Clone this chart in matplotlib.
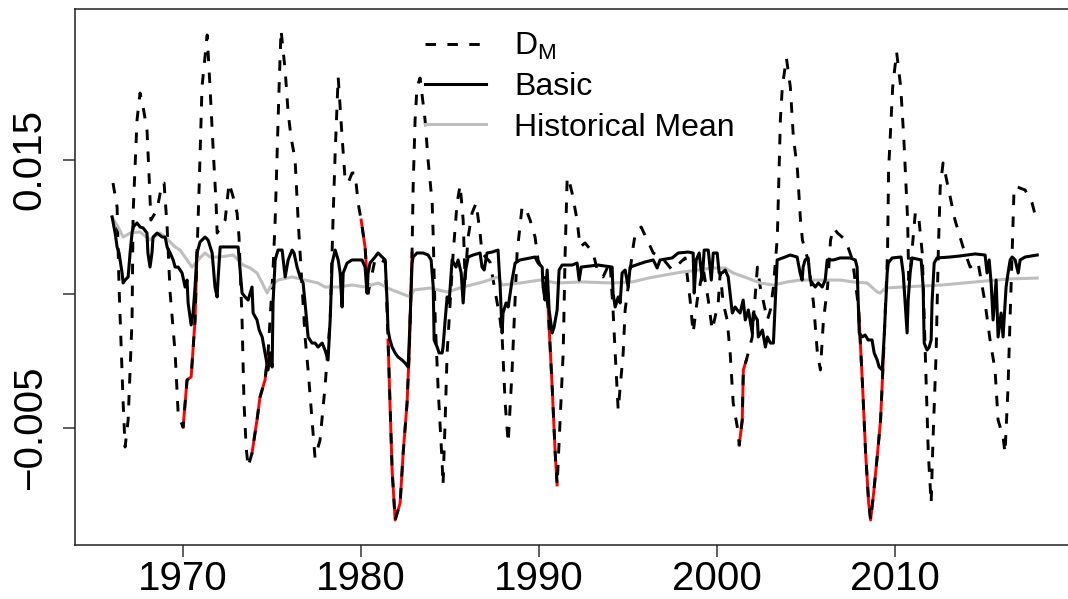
import numpy as np
import matplotlib
matplotlib.use('Agg')
import matplotlib.pyplot as plt

plt.rcParams['font.family'] = ['Liberation Sans', 'DejaVu Sans']
plt.rcParams['mathtext.fontset'] = 'custom'
plt.rcParams['mathtext.rm'] = 'Liberation Sans'
plt.rcParams['mathtext.it'] = 'Liberation Sans:italic'

# D_M (dashed)
dm_year = [1966.08, 1966.31, 1966.42, 1966.65, 1966.76, 1966.93, 1967.15, 1967.21, 1967.43, 1967.60,
           1967.77, 1967.99, 1968.10, 1968.21, 1968.55, 1968.84, 1968.95, 1969.12, 1969.29, 1969.57,
           1969.74, 1969.85, 1970.02, 1970.24, 1970.47, 1970.69, 1970.80, 1970.92, 1971.08, 1971.37,
           1971.53, 1971.70, 1971.87, 1971.93, 1972.38, 1972.60, 1972.83, 1973.05, 1973.16, 1973.33,
           1973.44, 1973.56, 1973.67, 1973.89, 1974.17, 1974.34, 1974.62, 1974.79, 1975.07, 1975.19,
           1975.30, 1975.41, 1975.52, 1975.75, 1975.92, 1976.08, 1976.31, 1976.48, 1976.70, 1976.87,
           1977.04, 1977.26, 1977.43, 1977.71, 1977.99, 1978.28, 1978.44, 1978.56, 1978.73, 1978.95,
           1979.12, 1979.29, 1979.51, 1979.68, 1979.85, 1980.02, 1980.24, 1980.41, 1980.82, 1981.38,
           1981.53, 1981.64, 1981.76, 1981.93, 1982.21, 1982.38, 1982.60, 1982.72, 1982.88, 1982.94,
           1983.05, 1983.16, 1983.33, 1983.61, 1983.78, 1984.01, 1984.07, 1984.18, 1984.34, 1984.57,
           1984.62, 1984.74, 1984.85, 1985.02, 1985.19, 1985.41, 1985.58, 1985.75, 1985.86, 1986.03,
           1986.25, 1986.48, 1986.70, 1986.81, 1987.26, 1987.83, 1987.94, 1988.11, 1988.28, 1988.50,
           1988.78, 1989.06, 1989.23, 1989.51, 1989.79, 1989.96, 1990.30, 1990.53, 1990.75, 1990.92,
           1991.03, 1991.20, 1991.37, 1991.48, 1991.59, 1991.65, 1991.87, 1992.15, 1992.32, 1992.60,
           1993.05, 1993.33, 1993.61, 1994.00, 1994.17, 1994.29, 1994.46, 1994.74, 1994.85, 1995.02,
           1995.25, 1995.42, 1995.75, 1996.09, 1996.43, 1996.93, 1997.49, 1998.22, 1998.50, 1998.67,
           1998.90, 1999.23, 1999.52, 1999.74, 2000.08, 2000.19, 2000.36, 2000.58, 2000.75, 2000.92,
           2001.15, 2001.26, 2001.43, 2001.49, 2001.66, 2001.99, 2002.05, 2002.28, 2002.44, 2002.84,
           2003.01, 2003.18, 2003.40, 2003.57, 2003.68, 2003.91, 2004.13, 2004.30, 2004.53, 2004.70,
           2004.81, 2005.15, 2005.43, 2005.65, 2005.82, 2005.99, 2006.22, 2006.39, 2006.56, 2006.78,
           2007.23, 2007.62, 2007.96, 2008.19, 2008.36, 2008.53, 2008.64, 2008.81, 2009.03, 2009.20,
           2009.37, 2009.59, 2009.65, 2009.88, 2010.10, 2010.33, 2010.50, 2010.72, 2010.78, 2010.87,
           2011.15, 2011.32, 2011.54, 2011.71, 2011.88, 2012.04, 2012.15, 2012.32, 2012.44, 2012.55,
           2012.71, 2012.99, 2013.38, 2013.83, 2014.23, 2014.67, 2015.07, 2015.35, 2015.63, 2015.80,
           2016.08, 2016.19, 2016.36, 2016.47, 2016.59, 2016.70, 2016.87, 2017.32, 2017.71, 2018.00]
dm_val = [0.01328, 0.01149, 0.00552, -0.00313, -0.00642, -0.00440, 0.00306, 0.01104, 0.01799, 0.02000,
          0.01896, 0.01724, 0.01403, 0.01052, 0.01127, 0.01328, 0.01328, 0.01000, 0.00507, 0.00060,
          -0.00388, -0.00440, -0.00493, -0.00142, -0.00119, 0.00306, 0.00806, 0.01299, 0.02045, 0.02433,
          0.02045, 0.01597, 0.01179, 0.00955, 0.01052, 0.01328, 0.01224, 0.01104, 0.00925, 0.00306,
          -0.00313, -0.00642, -0.00791, -0.00687, -0.00440, -0.00269, -0.00142, 0.00060, 0.00679, 0.01052,
          0.01552, 0.02045, 0.02470, 0.02172, 0.01851, 0.01672, 0.01500, 0.01052, 0.00552, 0.00179,
          -0.00067, -0.00440, -0.00724, -0.00590, -0.00194, 0.00306, 0.01052, 0.01552, 0.02119, 0.01672,
          0.01351, 0.01328, 0.01403, 0.01403, 0.01179, 0.01052, 0.00851, 0.00507, 0.00769, 0.00739,
          0.00157, -0.00313, -0.00813, -0.01187, -0.01060, -0.00687, -0.00313, 0.00060, 0.00806, 0.01299,
          0.01799, 0.02045, 0.02112, 0.01799, 0.01500, 0.01179, 0.00925, 0.00306, -0.00194, -0.00761,
          -0.00925, -0.00440, 0.00060, 0.00433, 0.00806, 0.01179, 0.01313, 0.01052, 0.00604, 0.00925,
          0.01104, 0.01179, 0.00955, 0.00806, 0.00739, 0.00306, 0.00179, -0.00313, -0.00612, -0.00067,
          0.00806, 0.01149, 0.01149, 0.01052, 0.00925, 0.00754, 0.00642, 0.00381, -0.00194, -0.00687,
          -0.00925, -0.00440, 0.00060, 0.00806, 0.01351, 0.01373, 0.01254, 0.01052, 0.00851, 0.00881,
          0.00806, 0.00657, 0.00627, 0.00739, 0.00381, 0.00060, -0.00366, 0.00060, 0.00381, 0.00552,
          0.00806, 0.00955, 0.01000, 0.00903, 0.00806, 0.00769, 0.00679, 0.00769, 0.00455, 0.00209,
          0.00455, 0.00694, 0.00455, 0.00231, 0.00433, 0.00657, 0.00433, 0.00306, 0.00060, -0.00313,
          -0.00493, -0.00627, -0.00440, -0.00067, 0.00007, 0.00179, 0.00306, 0.00701, 0.00552, 0.00306,
          0.00381, 0.00552, 0.00925, 0.01799, 0.02045, 0.02261, 0.02045, 0.01672, 0.01425, 0.01052,
          0.00903, 0.00739, 0.00433, 0.00060, -0.00067, 0.00306, 0.00552, 0.00903, 0.00993, 0.00955,
          0.00903, 0.00754, 0.00403, -0.00194, -0.00687, -0.01060, -0.01187, -0.00985, -0.00687, -0.00440,
          0.00060, 0.00806, 0.01425, 0.02045, 0.02306, 0.02045, 0.01672, 0.01052, 0.00604, 0.00679,
          0.01104, 0.01104, 0.00806, 0.00060, -0.00687, -0.01060, -0.00567, 0.00060, 0.00806, 0.01299,
          0.01478, 0.01299, 0.01052, 0.00851, 0.00701, 0.00739, 0.00433, 0.00157, -0.00067, -0.00440,
          -0.00567, -0.00687, -0.00194, 0.00306, 0.00806, 0.01299, 0.01299, 0.01276, 0.01179, 0.01030]

# Basic (solid black)
basic_year = [1966.03, 1966.20, 1966.31, 1966.42, 1966.48, 1966.59, 1966.65, 1966.76, 1966.93, 1967.04,
              1967.15, 1967.21, 1967.43, 1967.60, 1967.77, 1967.99, 1968.04, 1968.16, 1968.27, 1968.33,
              1968.56, 1968.84, 1969.01, 1969.12, 1969.29, 1969.46, 1969.57, 1969.74, 1969.96, 1970.13,
              1970.24, 1970.30, 1970.47, 1970.58, 1970.69, 1970.80, 1970.97, 1971.25, 1971.42, 1971.65,
              1971.81, 1971.93, 1971.98, 1972.10, 1972.54, 1973.11, 1973.22, 1973.33, 1973.50, 1973.67,
              1973.89, 1973.95, 1974.17, 1974.29, 1974.46, 1974.62, 1974.79, 1974.90, 1975.02, 1975.07,
              1975.19, 1975.35, 1975.58, 1975.75, 1975.92, 1976.14, 1976.25, 1976.42, 1976.59, 1976.76,
              1976.87, 1977.04, 1977.26, 1977.43, 1977.60, 1977.83, 1977.99, 1978.16, 1978.28, 1978.39,
              1978.56, 1978.73, 1978.84, 1978.95, 1979.01, 1979.23, 1979.51, 1979.85, 1980.07, 1980.24,
              1980.35, 1980.41, 1980.52, 1980.80, 1980.97, 1981.20, 1981.37, 1981.48, 1981.53, 1981.64,
              1981.76, 1981.93, 1982.09, 1982.32, 1982.49, 1982.66, 1982.77, 1982.88, 1982.94, 1983.16,
              1983.50, 1983.78, 1983.95, 1984.07, 1984.12, 1984.29, 1984.40, 1984.57, 1984.62, 1984.74,
              1984.85, 1984.96, 1985.13, 1985.35, 1985.47, 1985.64, 1985.75, 1985.86, 1986.03, 1986.31,
              1986.70, 1986.81, 1986.93, 1987.09, 1987.38, 1987.71, 1987.83, 1987.94, 1987.99, 1988.16,
              1988.28, 1988.50, 1988.67, 1988.95, 1989.51, 1989.79, 1989.96, 1990.19, 1990.24, 1990.35,
              1990.47, 1990.58, 1990.75, 1990.86, 1991.03, 1991.14, 1991.31, 1991.87, 1992.15, 1992.27,
              1992.38, 1993.33, 1994.12, 1994.17, 1994.29, 1994.46, 1994.57, 1994.68, 1994.85, 1995.02,
              1995.13, 1995.97, 1996.43, 1996.65, 1996.81, 1997.49, 1997.83, 1998.39, 1998.67, 1998.73,
              1998.84, 1999.01, 1999.18, 1999.29, 1999.52, 1999.69, 1999.80, 2000.02, 2000.13, 2000.30,
              2000.47, 2000.64, 2000.87, 2001.03, 2001.15, 2001.31, 2001.48, 2001.60, 2001.77, 2001.99,
              2002.05, 2002.28, 2002.33, 2002.56, 2002.73, 2002.84, 2003.01, 2003.18, 2003.29, 2003.39,
              2003.84, 2004.12, 2004.51, 2004.68, 2004.79, 2004.85, 2004.96, 2005.13, 2005.25, 2005.36,
              2005.53, 2005.70, 2005.92, 2006.09, 2006.20, 2006.54, 2006.93, 2007.49, 2007.78, 2007.88,
              2008.00, 2008.16, 2008.33, 2008.50, 2008.72, 2008.84, 2009.01, 2009.12, 2009.29, 2009.40,
              2009.57, 2009.63, 2009.85, 2010.35, 2010.47, 2010.58, 2010.69, 2010.75, 2010.86, 2010.97,
              2011.48, 2011.59, 2011.65, 2011.81, 2011.93, 2012.04, 2012.09, 2012.21, 2012.37, 2013.10,
              2013.67, 2014.51, 2015.07, 2015.18, 2015.30, 2015.41, 2015.52, 2015.69, 2015.80, 2015.97,
              2016.08, 2016.25, 2016.36, 2016.48, 2016.59, 2016.76, 2016.93, 2017.04, 2017.32, 2018.00]
basic_val = [0.01075, 0.00955, 0.00851, 0.00806, 0.00754, 0.00657, 0.00582, 0.00604, 0.00627, 0.00806,
             0.00955, 0.01000, 0.01030, 0.01000, 0.00993, 0.00955, 0.00806, 0.00701, 0.00806, 0.00925,
             0.00955, 0.00925, 0.00925, 0.00851, 0.00806, 0.00754, 0.00701, 0.00701, 0.00657, 0.00552,
             0.00604, 0.00433, 0.00269, 0.00358, 0.00552, 0.00806, 0.00888, 0.00925, 0.00903, 0.00806,
             0.00552, 0.00478, 0.00604, 0.00851, 0.00851, 0.00851, 0.00679, 0.00507, 0.00478, 0.00455,
             0.00552, 0.00358, 0.00306, 0.00231, 0.00179, 0.00060, -0.00067, 0.00060, -0.00045, 0.00433,
             0.00754, 0.00828, 0.00828, 0.00627, 0.00754, 0.00828, 0.00806, 0.00701, 0.00627, 0.00582,
             0.00433, 0.00179, 0.00134, 0.00134, 0.00104, 0.00134, 0.00082, 0.00007, 0.00306, 0.00731,
             0.00828, 0.00754, 0.00657, 0.00403, 0.00657, 0.00731, 0.00754, 0.00754, 0.00754, 0.00701,
             0.00507, 0.00657, 0.00731, 0.00776, 0.00806, 0.00776, 0.00754, 0.00433, 0.00231, 0.00157,
             0.00104, 0.00060, 0.00030, 0.00007, -0.00015, -0.00045, 0.00306, 0.00731, 0.00776, 0.00806,
             0.00806, 0.00791, 0.00754, 0.00552, 0.00157, 0.00104, 0.00060, 0.00060, 0.00104, 0.00306,
             0.00478, 0.00433, 0.00754, 0.00701, 0.00754, 0.00657, 0.00433, 0.00657, 0.00776, 0.00791,
             0.00806, 0.00701, 0.00679, 0.00806, 0.00813, 0.00828, 0.00552, 0.00209, 0.00358, 0.00433,
             0.00403, 0.00604, 0.00731, 0.00754, 0.00769, 0.00776, 0.00731, 0.00701, 0.00552, 0.00455,
             0.00679, 0.00381, 0.00209, 0.00254, 0.00381, 0.00679, 0.00716, 0.00716, 0.00731, 0.00604,
             0.00701, 0.00716, 0.00701, 0.00507, 0.00403, 0.00478, 0.00433, 0.00657, 0.00679, 0.00552,
             0.00701, 0.00739, 0.00754, 0.00694, 0.00754, 0.00769, 0.00806, 0.00813, 0.00806, 0.00507,
             0.00754, 0.00806, 0.00604, 0.00828, 0.00828, 0.00604, 0.00806, 0.00806, 0.00657, 0.00657,
             0.00679, 0.00627, 0.00358, 0.00403, 0.00381, 0.00358, 0.00455, 0.00306, 0.00381, 0.00209,
             0.00358, 0.00306, 0.00179, 0.00231, 0.00104, 0.00179, 0.00134, 0.00134, 0.00455, 0.00754,
             0.00776, 0.00791, 0.00776, 0.00657, 0.00604, 0.00701, 0.00754, 0.00769, 0.00604, 0.00582,
             0.00552, 0.00582, 0.00552, 0.00604, 0.00754, 0.00754, 0.00769, 0.00769, 0.00754, 0.00701,
             0.00209, 0.00179, 0.00194, 0.00157, 0.00157, 0.00060, 0.00007, -0.00045, -0.00067, 0.00179,
             0.00657, 0.00731, 0.00769, 0.00776, 0.00657, 0.00433, 0.00209, 0.00455, 0.00657, 0.00769,
             0.00754, 0.00552, 0.00134, 0.00082, 0.00104, 0.00157, 0.00433, 0.00731, 0.00769, 0.00776,
             0.00784, 0.00799, 0.00791, 0.00657, 0.00754, 0.00582, 0.00306, 0.00604, 0.00179, 0.00358,
             0.00179, 0.00552, 0.00657, 0.00754, 0.00776, 0.00754, 0.00657, 0.00754, 0.00776, 0.00791]

# Historical Mean (grey)
hist_year = [1966.03, 1966.37, 1966.65, 1967.04, 1967.60, 1968.16, 1968.72, 1969.01, 1969.29, 1969.57,
             1969.85, 1970.24, 1970.52, 1970.97, 1971.25, 1971.53, 1972.10, 1972.83, 1973.11, 1973.39,
             1973.78, 1974.17, 1974.46, 1974.74, 1974.90, 1975.35, 1976.14, 1976.87, 1977.60, 1977.99,
             1978.73, 1979.51, 1980.24, 1980.97, 1981.76, 1982.49, 1982.77, 1983.00, 1983.89, 1984.85,
             1985.75, 1986.87, 1987.71, 1987.94, 1988.95, 1990.07, 1991.03, 1992.43, 1994.12, 1995.25,
             1996.15, 1997.10, 1998.06, 1998.96, 1999.74, 2000.47, 2000.92, 2001.71, 2002.44, 2003.18,
             2003.96, 2004.68, 2006.93, 2007.66, 2008.45, 2009.01, 2009.18, 2009.46, 2010.41, 2012.66,
             2014.51, 2016.37, 2018.00]
hist_val = [0.01075, 0.01000, 0.00925, 0.00955, 0.00963, 0.00903, 0.00955, 0.00925, 0.00888, 0.00851,
            0.00828, 0.00754, 0.00701, 0.00769, 0.00806, 0.00776, 0.00776, 0.00791, 0.00754, 0.00716,
            0.00694, 0.00657, 0.00582, 0.00507, 0.00552, 0.00604, 0.00627, 0.00604, 0.00582, 0.00552,
            0.00552, 0.00567, 0.00552, 0.00582, 0.00530, 0.00493, 0.00478, 0.00530, 0.00545, 0.00515,
            0.00552, 0.00590, 0.00627, 0.00567, 0.00582, 0.00604, 0.00582, 0.00590, 0.00582, 0.00590,
            0.00619, 0.00642, 0.00664, 0.00679, 0.00694, 0.00694, 0.00657, 0.00619, 0.00582, 0.00567,
            0.00590, 0.00604, 0.00604, 0.00590, 0.00582, 0.00515, 0.00507, 0.00545, 0.00552, 0.00567,
            0.00590, 0.00612, 0.00619]

# recession spans where D_M is highlighted in red
recessions = [(1969.95, 1970.85), (1973.85, 1974.85), (1980.0, 1980.45), (1981.5, 1982.9),
              (1990.5, 1991.05), (2001.2, 2001.7), (2007.95, 2009.4)]

x_ticks = [1970, 1980, 1990, 2000, 2010]
y_ticks = [-0.005, 0.005, 0.015]
y_ticklabels = ['\u22120.005', '', '0.015']

dm_year = np.array(dm_year)
dm_val = np.array(dm_val)

fig = plt.figure(figsize=(10.68, 5.99), dpi=100)
ax = fig.add_axes([0.0698, 0.0902, 0.9359, 0.8948])

for start, end in recessions:
    m = (dm_year >= start) & (dm_year <= end)
    ax.plot(dm_year[m], dm_val[m], color='red', lw=2.1)

l_dm, = ax.plot(dm_year, dm_val, color='black', lw=2.1, linestyle=(0, (3.6, 3.9)))
l_hist, = ax.plot(hist_year, hist_val, color='#bebebe', lw=2.2)
l_basic, = ax.plot(basic_year, basic_val, color='black', lw=2.2)

ax.set_xlim(1963.92, 2020.07)
ax.set_ylim(-0.01373, 0.02627)
ax.set_xticks(x_ticks)
ax.set_xticklabels([str(t) for t in x_ticks])
ax.set_yticks(y_ticks)
ax.set_yticklabels(y_ticklabels, rotation=90, va='center')
ax.tick_params(axis='both', length=8.6, width=1.1, labelsize=29, color='#333333')
ax.tick_params(axis='x', pad=2)
ax.tick_params(axis='y', pad=10)
for s in ax.spines.values():
    s.set_linewidth(1.1)
    s.set_color('#222222')

ax.legend([l_dm, l_basic, l_hist], [r'D$_{\mathregular{M}}$', 'Basic', 'Historical Mean'],
          loc='upper left', bbox_to_anchor=(425 / 1068, 1 - 31 / 599),
          bbox_transform=fig.transFigure, frameon=False, fontsize=23,
          handlelength=1.9, handletextpad=0.9, labelspacing=0.32,
          borderpad=0, borderaxespad=0)

fig.savefig('out.png', dpi=100)
